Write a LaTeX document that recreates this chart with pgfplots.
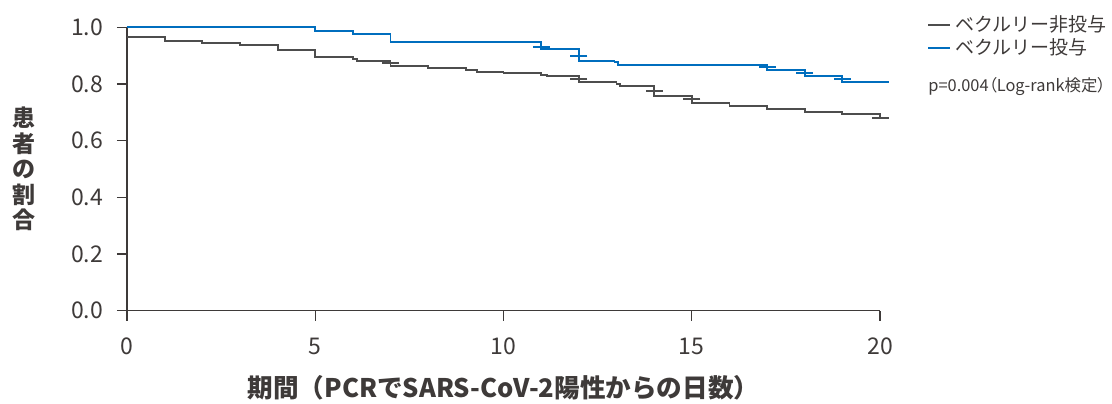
\documentclass[border=0pt]{standalone}
\usepackage{fontspec}
\setmainfont{Noto Sans CJK JP}
\usepackage{pgfplots}
\pgfplotsset{compat=1.18}
\definecolor{kmgray}{RGB}{77,77,77}
\definecolor{kmblue}{RGB}{0,110,190}
\definecolor{axcol}{RGB}{62,58,57}
\begin{document}
\begin{tikzpicture}
\path[use as bounding box] (-63.5pt,-46.15pt) rectangle (492.5pt,155.35pt);
\begin{axis}[
  at={(0,0)}, anchor=south west,
  scale only axis, width=376.5pt, height=141.75pt,
  xmin=0, xmax=20, ymin=0, ymax=1,
  axis x line=bottom, axis y line=left,
  axis line style={-, axcol, line width=0.6pt},
  xtick={0,5,10,15,20}, ytick={0,0.2,0.4,0.6,0.8,1},
  yticklabel style={/pgf/number format/.cd, fixed, fixed zerofill, precision=1, /tikz/.cd, xshift=-3.5pt},
  xticklabel style={yshift=-5pt},
  /pgf/number format/assume math mode=true,
  tick align=outside, major tick length=5pt,
  tick style={axcol, line width=0.6pt},
  ticklabel style={font=\fontsize{11.5}{13}\selectfont, text=axcol},
  clip=false,
  xlabel={\bfseries 期間（PCRでSARS-CoV-2陽性からの日数）},
  xlabel style={font=\fontsize{12.8}{14}\selectfont, text=axcol, at={(axis description cs:0.5,-0.273)}, anchor=center},
  ylabel={患\\者\\の\\割\\合},
  ylabel style={rotate=-90, align=center, font=\bfseries\fontsize{11.5}{12.7}\selectfont, text=axcol, at={(axis description cs:-0.1368,0.5)}, anchor=center},
  legend style={draw=none, fill=none, at={(axis description cs:1,1)}, anchor=north west, xshift=20.5pt, yshift=10pt, font=\fontsize{9.5}{10}\selectfont, text=axcol, row sep=-2pt},
  legend cell align=left,
  legend image code/.code={\draw[#1, line width=0.9pt] (0pt,0pt) -- (11pt,0pt);},
]
\addplot[const plot, kmgray, line width=0.9pt] coordinates {
(0,0.966) (1,0.952) (2,0.944) (3,0.937) (4,0.920) (5,0.894) (6,0.887) (6.1,0.882)
(7,0.863) (8,0.855) (9,0.849) (9.3,0.843) (10,0.838) (11,0.832) (11.15,0.828)
(12,0.806) (13,0.800) (13.1,0.793) (14,0.758) (15,0.734) (16,0.723) (17,0.711)
(18,0.701) (19,0.694) (20,0.680)
};
\addlegendentry{ベクルリー非投与}
\addplot[const plot, kmblue, line width=0.9pt] coordinates {
(0,1.0) (5,0.988) (6,0.976) (7,0.948) (11,0.922) (12,0.882) (12.95,0.876)
(13.05,0.868) (17,0.849) (18,0.829) (19,0.806) (20,0.806)
};
\addlegendentry{ベクルリー投与}
\addplot[only marks, mark=-, mark size=4.25pt, kmgray, mark options={line width=1pt}, forget plot] coordinates {
(7,0.875) (12,0.817) (14,0.775) (15,0.747) (20,0.680)
};
\addplot[only marks, mark=-, mark size=4.25pt, kmblue, mark options={line width=1pt}, forget plot] coordinates {
(11,0.931) (12,0.899) (17,0.861) (18,0.840) (19,0.818) (20,0.806)
};
\node[anchor=west, font=\fontsize{8.2}{10}\selectfont\addfontfeature{RawFeature=+palt}, text=axcol, inner sep=0pt] at (axis description cs:1.0637,0.790) {p=0.004（Log-rank検定）};
\end{axis}
\end{tikzpicture}
\end{document}
